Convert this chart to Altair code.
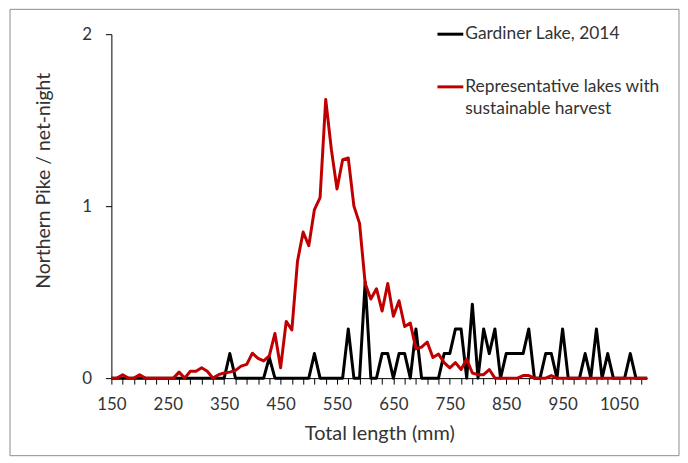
import altair as alt
import pandas as pd

# Category axis: total length bins (mm)
lengths = list(range(150, 1101, 10))

# Northern Pike per net-night, Gardiner Lake 2014 (black)
gardiner = [
    0, 0, 0, 0, 0, 0, 0, 0, 0, 0,          # 150-240
    0, 0, 0, 0, 0, 0, 0, 0, 0, 0,          # 250-340
    0, 0.143, 0, 0, 0, 0, 0, 0, 0.12, 0,   # 350-440
    0, 0, 0, 0, 0, 0, 0.143, 0, 0, 0,      # 450-540
    0, 0, 0.286, 0, 0, 0.56, 0, 0, 0.143, 0.143,  # 550-640
    0, 0.143, 0.143, 0, 0.286, 0, 0, 0, 0, 0.143, # 650-740
    0.143, 0.286, 0.286, 0, 0.43, 0, 0.286, 0.143, 0.286, 0,  # 750-840
    0.143, 0.143, 0.143, 0.143, 0.286, 0, 0, 0.143, 0.143, 0,  # 850-940
    0.286, 0, 0, 0, 0.143, 0, 0.286, 0, 0.143, 0,  # 950-1040
    0, 0, 0.143, 0, 0, 0,                  # 1050-1100
]

# Representative lakes with sustainable harvest (red)
representative = [
    0, 0, 0.02, 0, 0, 0.02, 0, 0, 0, 0,            # 150-240
    0, 0, 0.035, 0, 0.04, 0.04, 0.06, 0.04, 0, 0.02,  # 250-340
    0.03, 0.035, 0.045, 0.07, 0.08, 0.145, 0.115, 0.10, 0.13, 0.26,  # 350-440
    0.06, 0.33, 0.28, 0.68, 0.85, 0.77, 0.98, 1.05, 1.62, 1.33,  # 450-540
    1.10, 1.27, 1.28, 1.00, 0.90, 0.55, 0.46, 0.52, 0.39, 0.55,  # 550-640
    0.36, 0.45, 0.30, 0.32, 0.17, 0.18, 0.21, 0.12, 0.14, 0.09,  # 650-740
    0.06, 0.09, 0.05, 0.11, 0.03, 0.02, 0.02, 0.05, 0, 0,        # 750-840
    0, 0, 0, 0.015, 0.015, 0, 0, 0, 0.015, 0,                    # 850-940
    0, 0, 0, 0, 0, 0, 0, 0, 0, 0,                                # 950-1040
    0, 0, 0, 0, 0, 0,                                            # 1050-1100
]

series_names = ["Gardiner Lake, 2014", "Representative lakes with sustainable harvest"]
legend_lines = ["Gardiner Lake, 2014", "Representative lakes with", "sustainable harvest"]
x_tick_values = list(range(150, 1101, 20))
x_label_values = list(range(150, 1051, 100))
y_tick_values = [0, 1, 2]

df = pd.DataFrame({
    "length": lengths * 2,
    "value": gardiner + representative,
    "series": [series_names[0]] * len(lengths) + [series_names[1]] * len(lengths),
})

FONT = "Lato"
TXT = "#333333"
BLACK = "#000000"
RED = "#c00000"

x_scale = alt.Scale(domain=[150, 1100], nice=False, zero=False)
y_scale = alt.Scale(domain=[0, 2], nice=False)

# axis carrying the tick marks (every 20 mm), no labels
x_ticks_axis = alt.Axis(
    orient="bottom", values=x_tick_values, labels=False, grid=False, tickSize=6,
    title=None, domain=True,
)
# axis carrying the labels (every 100 mm) and the title
x_label_axis = alt.Axis(
    orient="bottom", values=x_label_values, ticks=False, domain=False, grid=False,
    format="d", labelOverlap=False, labelFlush=False, labelPadding=19,
    labelFontSize=17, title="Total length (mm)", titleY=56, titleBaseline="middle",
    titleFontSize=20,
)
# y axis: ticks and labels only
y_axis = alt.Axis(
    orient="left", values=y_tick_values, format=".0f", grid=False, tickSize=6,
    labelPadding=14, labelFontSize=17, labelOverlap=False, labelFlush=False,
    title=None,
)
# second y axis carrying only the title, positioned like the reference
y_title_axis = alt.Axis(
    orient="left", labels=False, ticks=False, domain=False, grid=False,
    title="Northern Pike / net-night",
    titleX=-68, titleY=147, titleBaseline="middle", titleFontSize=19.5,
)

base = alt.Chart(df)

black_line = base.transform_filter(
    alt.datum.series == series_names[0]
).mark_line(color=BLACK, strokeWidth=3, strokeJoin="round").encode(
    x=alt.X("length:Q", scale=x_scale, axis=x_ticks_axis),
    y=alt.Y("value:Q", scale=y_scale, axis=y_axis),
)

red_line = base.transform_filter(
    alt.datum.series == series_names[1]
).mark_line(color=RED, strokeWidth=3, strokeJoin="round").encode(
    x=alt.X("length:Q", scale=x_scale, axis=x_label_axis),
    y=alt.Y("value:Q", scale=y_scale, axis=y_title_axis),
)

one = pd.DataFrame({"k": [0]})

leg_black = alt.Chart(one).mark_rule(color=BLACK, strokeWidth=3).encode(
    x=alt.value(328), x2=alt.value(354), y=alt.value(0)
)
leg_red = alt.Chart(one).mark_rule(color=RED, strokeWidth=3).encode(
    x=alt.value(328), x2=alt.value(354), y=alt.value(53)
)
txt_kw = dict(align="left", baseline="middle", font=FONT, fontSize=17.5, color=TXT)
leg_t1 = alt.Chart(one).mark_text(text=legend_lines[0], **txt_kw).encode(
    x=alt.value(356), y=alt.value(0)
)
leg_t2 = alt.Chart(one).mark_text(text=legend_lines[1], **txt_kw).encode(
    x=alt.value(356), y=alt.value(53)
)
leg_t3 = alt.Chart(one).mark_text(text=legend_lines[2], **txt_kw).encode(
    x=alt.value(356), y=alt.value(75)
)

frame = alt.Chart(one).mark_rect(fillOpacity=0, stroke="#8c8c8c", strokeWidth=1).encode(
    x=alt.value(-102), x2=alt.value(571), y=alt.value(-25), y2=alt.value(424)
)

chart = alt.layer(
    frame, black_line, red_line, leg_black, leg_red, leg_t1, leg_t2, leg_t3
).resolve_axis(
    x="independent", y="independent"
).properties(
    width=539,
    height=346,
    autosize=alt.AutoSizeParams(type="none"),
    padding={"left": 104, "top": 25, "right": 33, "bottom": 79},
).configure_view(
    stroke="transparent"
).configure_axis(
    labelFont=FONT,
    labelColor=TXT,
    titleFont=FONT,
    titleFontWeight="normal",
    titleColor=TXT,
    domainColor=BLACK,
    tickColor=BLACK,
    domainWidth=1,
    tickWidth=1,
)

chart.save("out.html", embed_options={"renderer": "svg", "actions": False})
